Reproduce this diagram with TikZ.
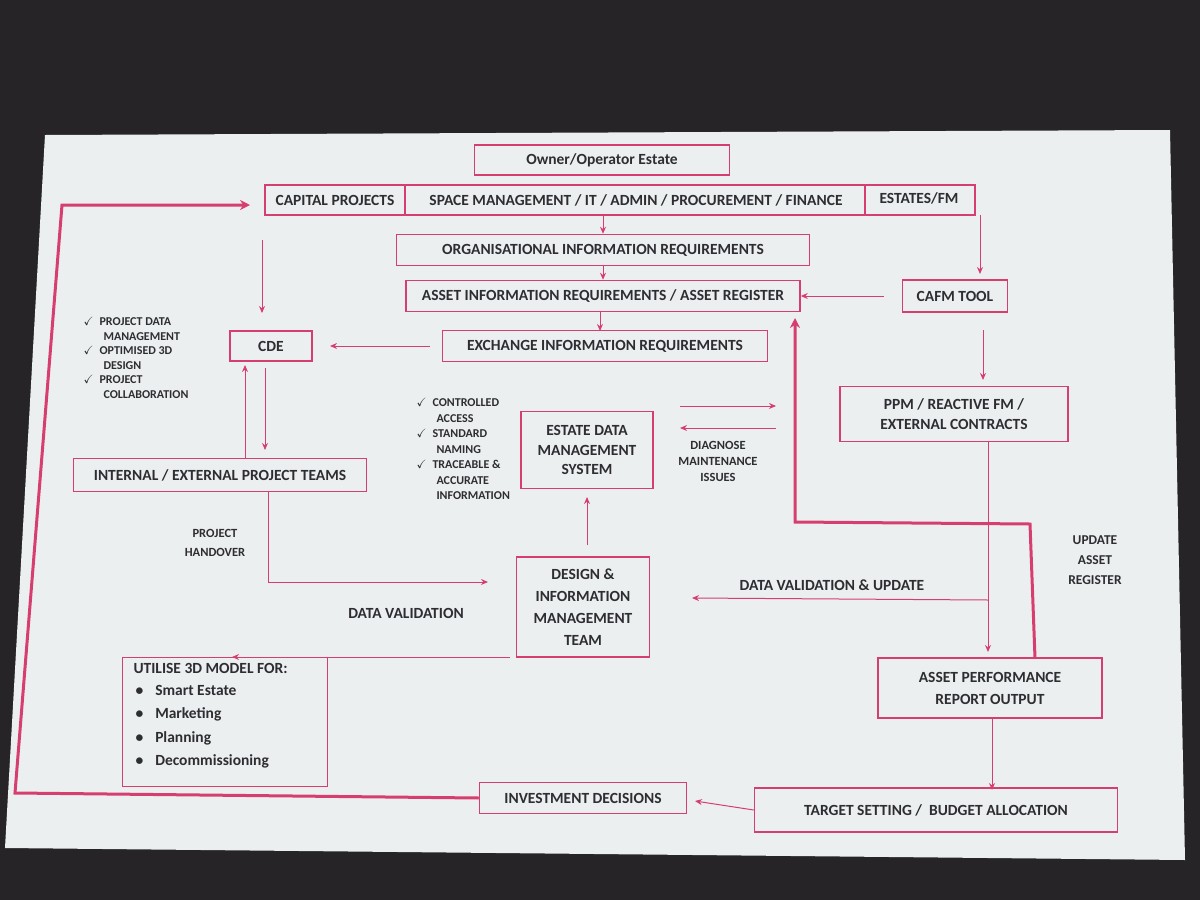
\documentclass[tikz,border=0pt]{standalone}
\usepackage{fontspec}
\setmainfont{Carlito}
\usepackage{amssymb}
\usetikzlibrary{arrows.meta}
\definecolor{pk}{RGB}{214,62,112}
\definecolor{txt}{RGB}{45,45,50}
\definecolor{slide}{RGB}{236,239,240}
\definecolor{bg}{RGB}{38,36,38}
\begin{document}
\begin{tikzpicture}[x=1pt,y=-1pt,
  box/.style={draw=pk,line width=1.5pt,inner sep=0pt,align=center,text=txt,font=\bfseries\fontsize{15.5}{19.5}\selectfont},
  lbl/.style={text=txt,align=center,font=\bfseries\fontsize{15.5}{19}\selectfont},
  chk/.style={text=txt,align=left,font=\bfseries\fontsize{12}{14.5}\selectfont,anchor=north west},
  ar/.style={draw=pk,line width=1pt,-{Stealth[length=7pt,width=6pt]}},
  thick ar/.style={draw=pk,line width=3pt,-{Stealth[length=10pt,width=10pt]}}]
\useasboundingbox (0,0) rectangle (1200,900);
\fill[bg] (0,0) rectangle (1200,900);
\fill[slide] (45,135) -- (1170,130) -- (1185,860) -- (5,848) -- cycle;

\node[box,minimum width=255,minimum height=30] (own) at (602,160) {Owner/Operator Estate};
\node[box,minimum width=710,minimum height=30] (top) at (620,200) {};
\draw[pk,line width=1.5pt] (405,185) -- (405,215) (865,185) -- (865,215);
\node[lbl] (cap) at (335,200) {CAPITAL PROJECTS};
\node[lbl] (spc) at (636,200) {SPACE MANAGEMENT / IT / ADMIN / PROCUREMENT / FINANCE};
\node[lbl] (est) at (919,198) {ESTATES/FM};

\node[box,minimum width=413,minimum height=31] (oir) at (603,250) {ORGANISATIONAL INFORMATION REQUIREMENTS};
\node[box,minimum width=394,minimum height=31] (air) at (603,296) {ASSET INFORMATION REQUIREMENTS / ASSET REGISTER};
\node[box,minimum width=105,minimum height=32] (cafm) at (955,296) {CAFM TOOL};
\node[box,minimum width=82,minimum height=30] (cde) at (271,346) {CDE};
\node[box,minimum width=325,minimum height=31] (eir) at (605,346) {EXCHANGE INFORMATION REQUIREMENTS};
\node[box,minimum width=132,minimum height=77] (edms) at (587,450) {ESTATE DATA\\MANAGEMENT\\SYSTEM};
\node[box,minimum width=228,minimum height=55] (ppm) at (954,414) {PPM / REACTIVE FM /\\EXTERNAL CONTRACTS};
\node[box,minimum width=293,minimum height=33] (team) at (220,475) {INTERNAL / EXTERNAL PROJECT TEAMS};
\node[box,minimum width=133,minimum height=100,font=\bfseries\fontsize{15.5}{22}\selectfont] (dimt) at (583,607) {DESIGN \&\\INFORMATION\\MANAGEMENT\\TEAM};
\node[box,minimum width=224,minimum height=60,font=\bfseries\fontsize{15.5}{22}\selectfont] (apr) at (990,688) {ASSET PERFORMANCE\\REPORT OUTPUT};
\node[box,minimum width=205,minimum height=129] (uti) at (225,722) {};
\node[lbl,anchor=north west,align=left,font=\bfseries\fontsize{15.5}{23.5}\selectfont] (utit) at (130,660)
  {UTILISE 3D MODEL FOR:\\[-2pt]
   \hspace*{2pt}\textbullet\hspace{12pt}Smart Estate\\
   \hspace*{2pt}\textbullet\hspace{12pt}Marketing\\
   \hspace*{2pt}\textbullet\hspace{12pt}Planning\\
   \hspace*{2pt}\textbullet\hspace{12pt}Decommissioning};
\node[box,minimum width=207,minimum height=31] (inv) at (583,798) {INVESTMENT DECISIONS};
\node[box,minimum width=363,minimum height=44] (tgt) at (936,810) {TARGET SETTING /\ \ BUDGET ALLOCATION};

% checklists
\node[chk] (chk1) at (80,314) {$\checkmark$\hspace{6pt}PROJECT DATA\\\hspace*{20pt}MANAGEMENT\\$\checkmark$\hspace{6pt}OPTIMISED 3D\\\hspace*{20pt}DESIGN\\$\checkmark$\hspace{6pt}PROJECT\\\hspace*{20pt}COLLABORATION};
\node[chk,font=\bfseries\fontsize{12}{15.5}\selectfont] (chk2) at (413,395) {$\checkmark$\hspace{6pt}CONTROLLED\\\hspace*{20pt}ACCESS\\$\checkmark$\hspace{6pt}STANDARD\\\hspace*{20pt}NAMING\\$\checkmark$\hspace{6pt}TRACEABLE \&\\\hspace*{20pt}ACCURATE\\\hspace*{20pt}INFORMATION};

% labels
\node[lbl,font=\bfseries\fontsize{12.5}{16}\selectfont] (diag) at (718,461) {DIAGNOSE\\MAINTENANCE\\ISSUES};
\node[lbl,font=\bfseries\fontsize{12.5}{19}\selectfont] (ph) at (215,543) {PROJECT\\HANDOVER};
\node[lbl] (dv) at (406,613) {DATA VALIDATION};
\node[lbl] (dvu) at (832,585) {DATA VALIDATION \& UPDATE};
\node[lbl,font=\bfseries\fontsize{13.5}{20}\selectfont] (uar) at (1095,560) {UPDATE\\ASSET\\REGISTER};

% coordinates
\coordinate (c1) at (262,240);
\coordinate (c2) at (262,313);
\coordinate (d1) at (680,406);
\coordinate (d2) at (776,406);
\coordinate (d3) at (776,428);
\coordinate (d4) at (680,428);
\coordinate (bj) at (988,600);

% arrows
\draw[ar] (603,215) -- (oir.north);
\draw[ar] (oir.south) -- (air.north);
\draw[ar] (600,312) -- (600,331);
\draw[ar] (980,215) -- (980,274);
\draw[ar] (884,296) -- (air.east);
\draw[ar] (983,330) -- (983,380);
\draw[ar] (430,346) -- (330,346);
\draw[ar] (c1) -- (c2);
\draw[ar] (245,458) -- (245,365);
\draw[ar] (265,368) -- (265,450);
\draw[ar] (268,492) -- (268,582) -- (488,582);
\draw[ar] (587,545) -- (587,497);
\draw[ar] (d1) -- (d2);
\draw[ar] (d3) -- (d4);
\draw[ar] (988,442) -- (988,652);
\draw[ar] (bj) -- (692,598);
\draw[ar] (510,657) -- (232,657);
\draw[ar] (992,718) -- (992,790);
\draw[ar] (tgt.west) -- (695,801);
\draw[thick ar] (1035,658) -- (1030,524) -- (795,522) -- (795,318);
\draw[thick ar] (inv.west) -- (15,793) -- (62,205) -- (250,205);
\end{tikzpicture}
\end{document}
